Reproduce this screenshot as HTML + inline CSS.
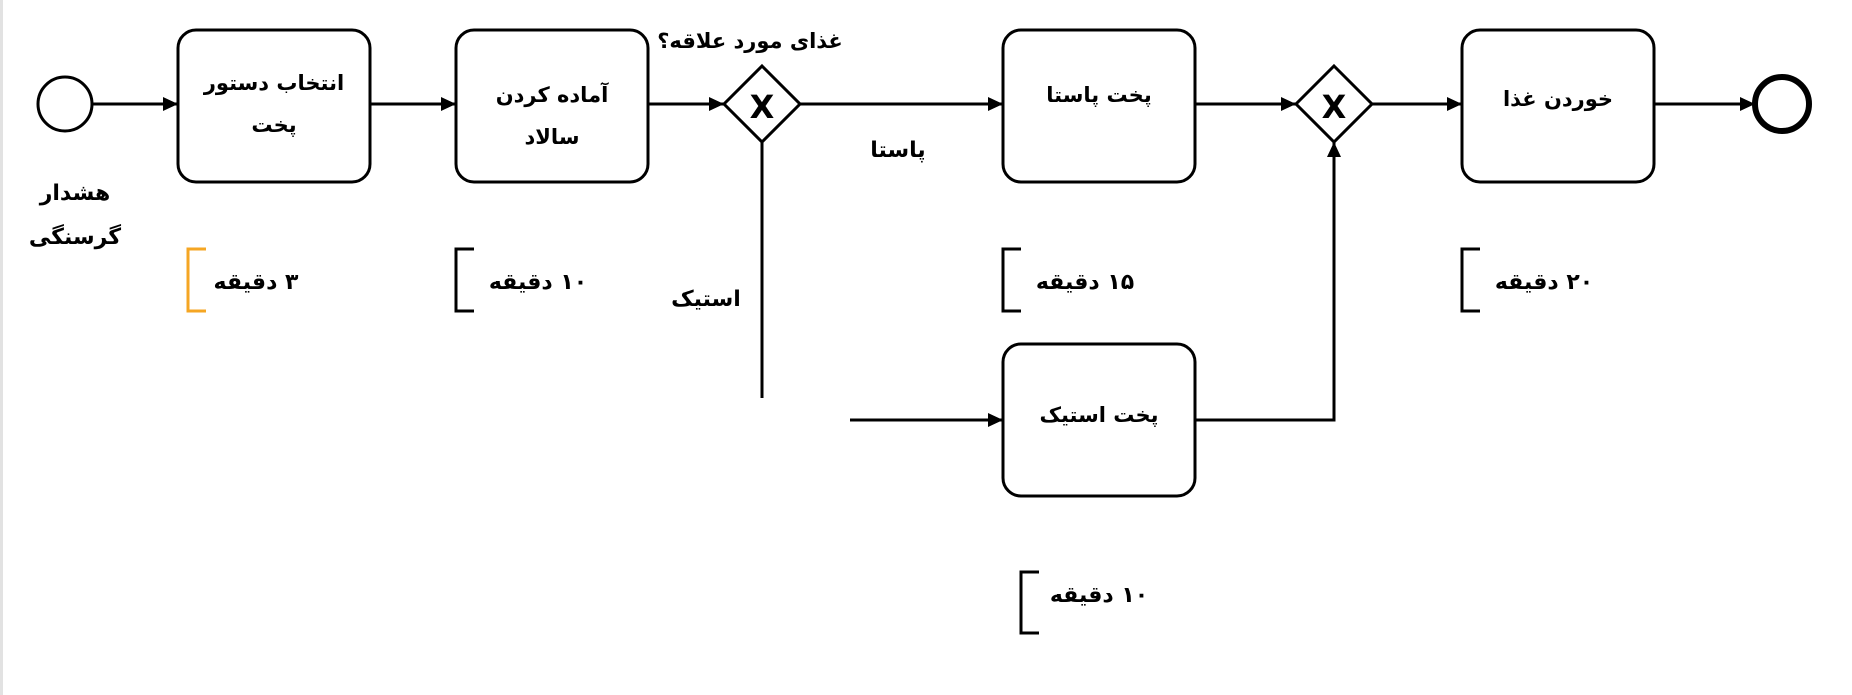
<!DOCTYPE html>
<html><head><meta charset="utf-8"><style>
html,body{margin:0;padding:0;background:#fff;width:1852px;height:695px;overflow:hidden}
svg{display:block}
text{font-family:"DejaVu Sans","Liberation Sans",sans-serif;font-weight:bold;font-size:21px;fill:#000}
.s{font-size:22px}
</style></head><body>
<svg width="1852" height="695" viewBox="0 0 1852 695">
<defs>
<marker id="b" markerWidth="16" markerHeight="16" refX="15" refY="7" orient="auto" markerUnits="userSpaceOnUse"><path d="M0,0 L15,7 L0,14 z" fill="#000"/></marker></defs>
<rect x="0" y="0" width="3" height="695" fill="#e2e2e2"/>
<g fill="none" stroke="#000" stroke-width="3">
<circle cx="65" cy="104" r="27"/>
<circle cx="1782" cy="104" r="27" stroke-width="6"/>
<rect x="178" y="30" width="192" height="152" rx="18"/>
<rect x="456" y="30" width="192" height="152" rx="18"/>
<rect x="1003" y="30" width="192" height="152" rx="18"/>
<rect x="1462" y="30" width="192" height="152" rx="18"/>
<rect x="1003" y="344" width="192" height="152" rx="18"/>
<path d="M762,66 L800,104 L762,142 L724,104 Z"/>
<path d="M1334,66 L1372,104 L1334,142 L1296,104 Z"/>
<g marker-end="url(#b)">
<line x1="92" y1="104" x2="178" y2="104"/>
<line x1="370" y1="104" x2="456" y2="104"/>
<line x1="648" y1="104" x2="724" y2="104"/>
<line x1="800" y1="104" x2="1003" y2="104"/>
<line x1="1195" y1="104" x2="1296" y2="104"/>
<line x1="1372" y1="104" x2="1462" y2="104"/>
<line x1="1654" y1="104" x2="1755" y2="104"/>
<line x1="850" y1="420" x2="1003" y2="420"/>
<polyline points="1195,420 1334,420 1334,142"/>
</g>
<line x1="762" y1="142" x2="762" y2="398"/>
<path d="M206,249 H188 V311 H206" stroke="#f5a623"/>
<path d="M474,249 H456 V311 H474"/>
<path d="M1021,249 H1003 V311 H1021"/>
<path d="M1480,249 H1462 V311 H1480"/>
<path d="M1039,572 H1021 V633 H1039"/>
</g>
<text x="762" y="118" text-anchor="middle" style="font-size:32px">X</text>
<text x="1334" y="118" text-anchor="middle" style="font-size:32px">X</text>
<g direction="rtl" text-anchor="middle">
<text x="274" y="90">انتخاب دستور</text>
<text x="274" y="132">پخت</text>
<text x="552" y="102">آماده کردن</text>
<text x="552" y="144">سالاد</text>
<text x="1099" y="102">پخت پاستا</text>
<text x="1558" y="106">خوردن غذا</text>
<text x="1099" y="422">پخت استیک</text>
<text class="s" x="75" y="200">هشدار</text>
<text class="s" x="75" y="244">گرسنگی</text>
<text x="750" y="48">غذای مورد علاقه؟</text>
<text class="s" x="898" y="157">پاستا</text>
<text class="s" x="706" y="306">استیک</text>
<text class="s" x="256" y="289">۳ دقیقه</text>
<text class="s" x="538" y="289">۱۰ دقیقه</text>
<text class="s" x="1085" y="289">۱۵ دقیقه</text>
<text class="s" x="1544" y="289">۲۰ دقیقه</text>
<text class="s" x="1099" y="602">۱۰ دقیقه</text>
</g>
</svg>
</body></html>
